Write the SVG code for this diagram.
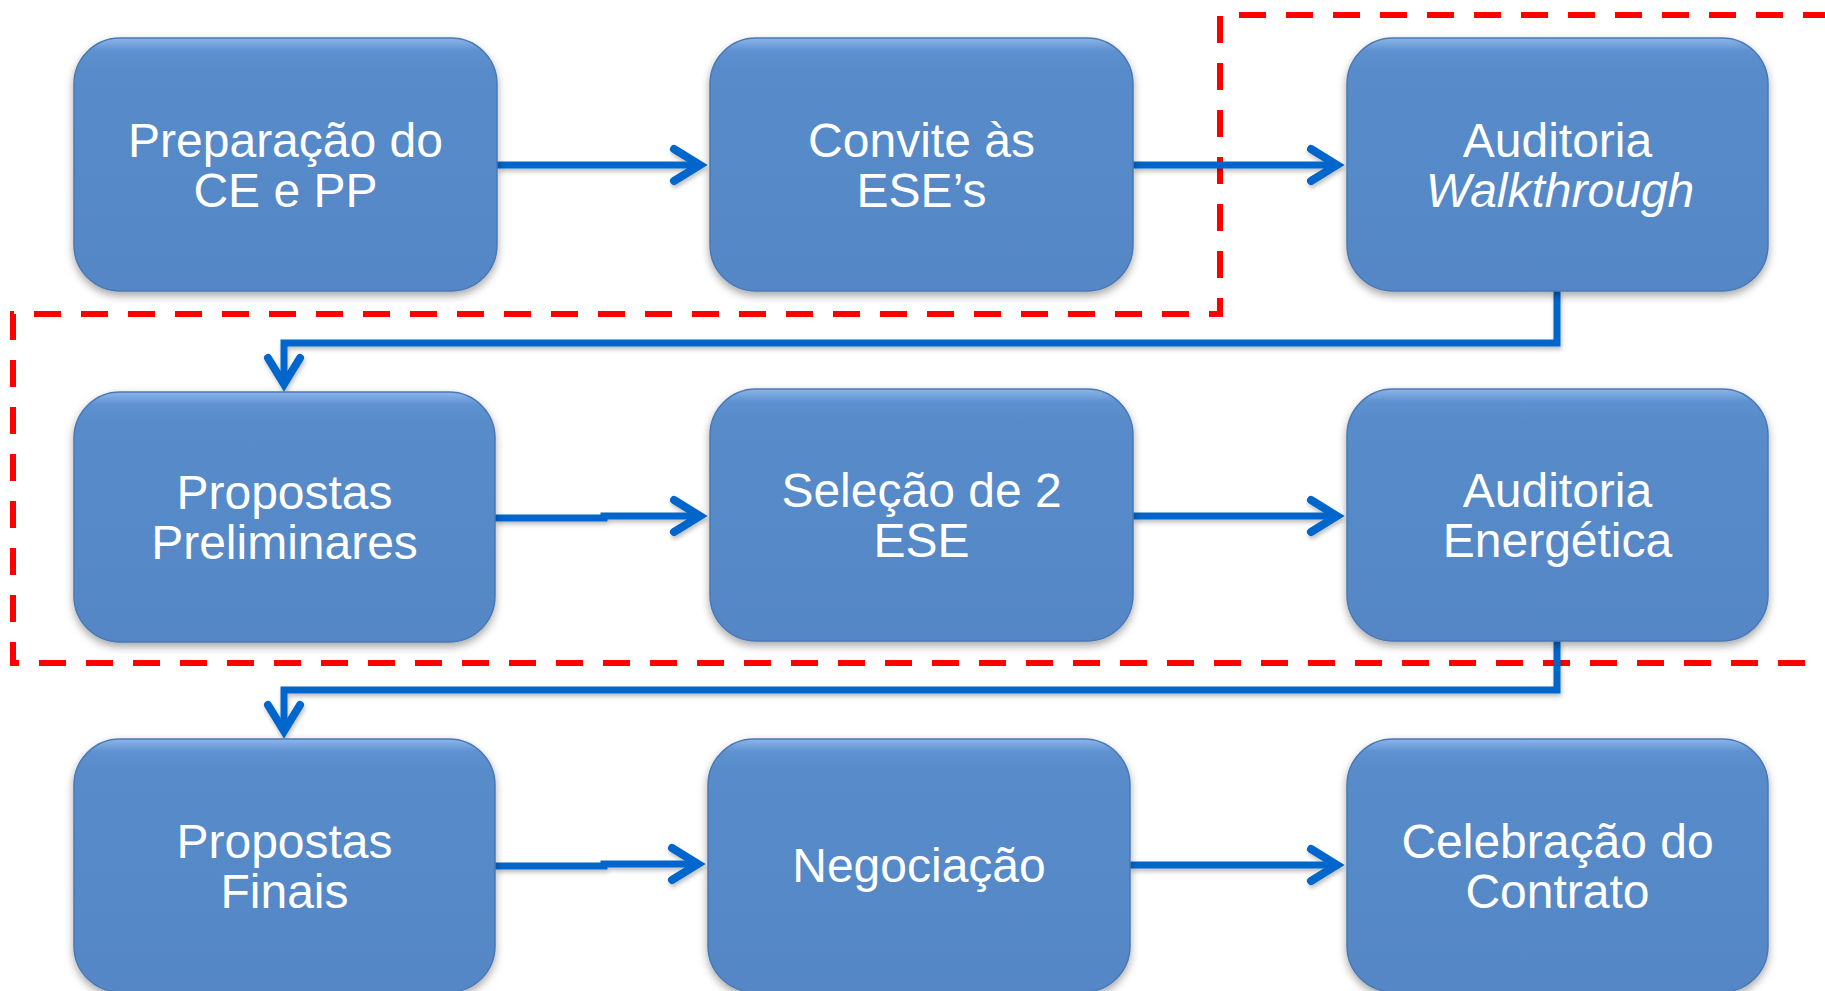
<svg xmlns="http://www.w3.org/2000/svg" width="1825" height="991" viewBox="0 0 1825 991">
<defs>
<linearGradient id="boxfill" x1="0" y1="0" x2="0" y2="1">
<stop offset="0" stop-color="#8DB6EA"/>
<stop offset="0.05" stop-color="#5E91D0"/>
<stop offset="0.12" stop-color="#588BCA"/>
<stop offset="1" stop-color="#5587C6"/>
</linearGradient>
<filter id="shadow" x="-10%" y="-10%" width="120%" height="125%">
<feDropShadow dx="0" dy="4" stdDeviation="4" flood-color="#000" flood-opacity="0.35"/>
</filter>
<filter id="lshadow" x="-5%" y="-50%" width="110%" height="200%">
<feDropShadow dx="1" dy="3" stdDeviation="2" flood-color="#000" flood-opacity="0.25"/>
</filter>
<marker id="chev" markerUnits="userSpaceOnUse" markerWidth="40" markerHeight="50" viewBox="0 0 40 50" refX="32" refY="25" orient="auto">
<path d="M6,9 L32,25 L6,41" fill="none" stroke="#0066CC" stroke-width="8" stroke-linecap="round" stroke-linejoin="miter"/>
</marker>
</defs>
<style>
.box{fill:url(#boxfill);stroke:#4A78B4;stroke-width:1.5;filter:url(#shadow)}
.lbl{font-family:"Liberation Sans",Arial,sans-serif;font-size:48px;fill:#FFFFFF;text-anchor:middle}
.it{font-style:italic}
.conn{fill:none;stroke:#0066CC;stroke-width:7;stroke-linejoin:miter}
.arrow{marker-end:url(#chev)}
.zone{fill:none;stroke:#FF0000;stroke-width:6;stroke-dasharray:27 20}
</style>
<rect width="1825" height="991" fill="#FFFFFF"/>

<g id="zone">
<path class="zone" d="M1830,15 H1220 V314 H13 V663 H1830"/>
</g>

<g id="connectors" filter="url(#lshadow)">
<path class="conn arrow" d="M497,165 H700"/>
<path class="conn arrow" d="M1133,165 H1337"/>
<path class="conn arrow" d="M495,518 H604 V516 H700"/>
<path class="conn arrow" d="M1133,516 H1337"/>
<path class="conn arrow" d="M495,866 H604 V864 H698"/>
<path class="conn arrow" d="M1130,865 H1337"/>
<path class="conn arrow" d="M1557,291 V343 H284 V384"/>
<path class="conn arrow" d="M1557,641 V690 H284 V731"/>
</g>

<g id="n1"><rect class="box" x="74" y="38" width="423" height="253" rx="46"/>
<text class="lbl" x="285.5" y="157">Preparação do</text><text class="lbl" x="285.5" y="207">CE e PP</text></g>
<g id="n2"><rect class="box" x="710" y="38" width="423" height="253" rx="46"/>
<text class="lbl" x="921.5" y="157">Convite às</text><text class="lbl" x="921.5" y="207">ESE’s</text></g>
<g id="n3"><rect class="box" x="1347" y="38" width="421" height="253" rx="46"/>
<text class="lbl" x="1557.5" y="157">Auditoria</text><text class="lbl it" x="1560" y="207">Walkthrough</text></g>

<g id="n4"><rect class="box" x="74" y="392" width="421" height="250" rx="46"/>
<text class="lbl" x="284.5" y="509">Propostas</text><text class="lbl" x="284.5" y="559">Preliminares</text></g>
<g id="n5"><rect class="box" x="710" y="389" width="423" height="252" rx="46"/>
<text class="lbl" x="921.5" y="507">Seleção de 2</text><text class="lbl" x="921.5" y="557">ESE</text></g>
<g id="n6"><rect class="box" x="1347" y="389" width="421" height="252" rx="46"/>
<text class="lbl" x="1557.5" y="507">Auditoria</text><text class="lbl" x="1557.5" y="557">Energética</text></g>

<g id="n7"><rect class="box" x="74" y="739" width="421" height="253" rx="46"/>
<text class="lbl" x="284.5" y="858">Propostas</text><text class="lbl" x="284.5" y="908">Finais</text></g>
<g id="n8"><rect class="box" x="708" y="739" width="422" height="253" rx="46"/>
<text class="lbl" x="919" y="882">Negociação</text></g>
<g id="n9"><rect class="box" x="1347" y="739" width="421" height="253" rx="46"/>
<text class="lbl" x="1557.5" y="858">Celebração do</text><text class="lbl" x="1557.5" y="908">Contrato</text></g>
</svg>
